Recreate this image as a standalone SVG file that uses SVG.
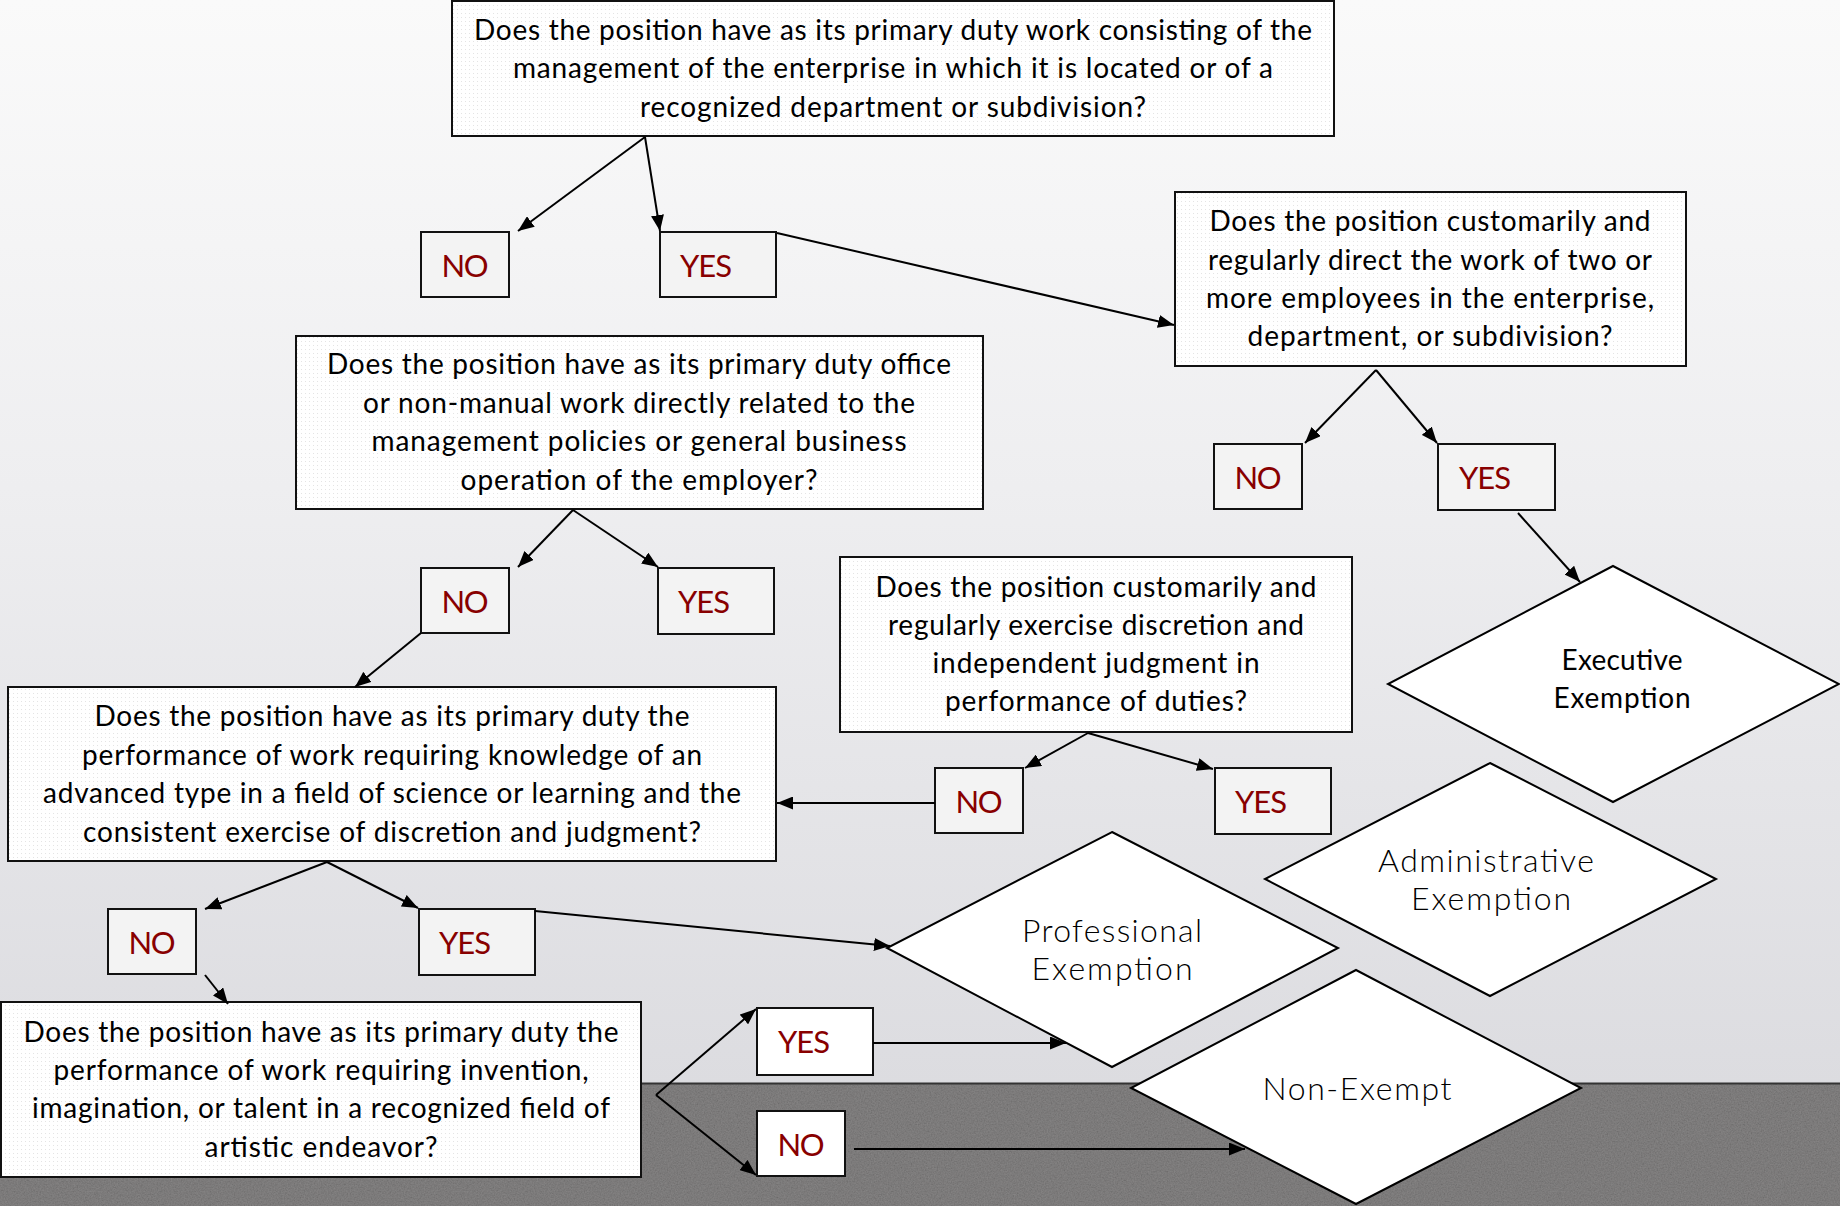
<svg xmlns="http://www.w3.org/2000/svg" width="1840" height="1206" viewBox="0 0 1840 1206">
<defs>
<linearGradient id="bg" x1="0" y1="0" x2="0" y2="1">
<stop offset="0" stop-color="#fafafa"/>
<stop offset="0.45" stop-color="#eeeef0"/>
<stop offset="1" stop-color="#dcdce0"/>
</linearGradient>
<pattern id="dots" width="4" height="4" patternUnits="userSpaceOnUse">
<rect width="4" height="4" fill="#ffffff"/>
<rect x="1" y="1" width="1" height="1" fill="#e4e4e4"/>
</pattern>
<filter id="noise" x="0" y="0" width="100%" height="100%">
<feTurbulence type="fractalNoise" baseFrequency="0.7" numOctaves="3" seed="4"/>
<feColorMatrix type="saturate" values="0"/>
<feComponentTransfer><feFuncA type="linear" slope="0" intercept="0.22"/></feComponentTransfer>
</filter>
<marker id="ah" markerUnits="userSpaceOnUse" markerWidth="17" markerHeight="13" refX="16" refY="6.5" orient="auto">
<path d="M0,0 L16,6.5 L0,13 z" fill="#000"/>
</marker>
</defs>
<style>
.q{fill:url(#dots);stroke:#111;stroke-width:2}
.yn{fill:#f3f3f3;stroke:#111;stroke-width:2}
.ynw{fill:#ffffff;stroke:#111;stroke-width:2}
.dm{fill:#ffffff;stroke:#000;stroke-width:2}
.qt{font-family:Lato,"Open Sans","Liberation Sans",sans-serif;font-size:28px;fill:#000;text-anchor:middle}
.a{font-family:Lato,"Open Sans","Liberation Sans",sans-serif;font-size:31px;fill:#880000}
.dt{font-family:Lato,"Open Sans","Liberation Sans",sans-serif;font-size:32px;font-weight:300;fill:#000;text-anchor:middle}
.ex{font-family:Lato,"Open Sans","Liberation Sans",sans-serif;font-size:28px;fill:#000;text-anchor:middle}
.c{fill:none;stroke:#000;stroke-width:2;marker-end:url(#ah)}
</style>
<rect x="0" y="0" width="1840" height="1084" fill="url(#bg)"/>
<rect x="0" y="1083" width="1840" height="123" fill="#6a6868"/>
<rect x="0" y="1083" width="1840" height="123" filter="url(#noise)"/>
<line x1="0" y1="1083.5" x2="1840" y2="1083.5" stroke="#333" stroke-width="2"/>

<g id="q1">
<rect class="q" x="452" y="1" width="882" height="135"/>
<text class="qt" x="893" y="40" textLength="838">Does the position have as its primary duty work consisting of the</text>
<text class="qt" x="893" y="78" textLength="760">management of the enterprise in which it is located or of a</text>
<text class="qt" x="893" y="117" textLength="506">recognized department or subdivision?</text>
</g>
<g id="no1"><rect class="yn" x="421" y="232" width="88" height="65"/><text class="a" x="465" y="277" text-anchor="middle" textLength="47">NO</text></g>
<g id="yes1"><rect class="yn" x="660" y="232" width="116" height="65"/><text class="a" x="680" y="277" textLength="52">YES</text></g>

<g id="q2">
<rect class="q" x="1175" y="192" width="511" height="174"/>
<text class="qt" x="1430" y="231" textLength="441">Does the position customarily and</text>
<text class="qt" x="1430" y="270" textLength="444">regularly direct the work of two or</text>
<text class="qt" x="1430" y="308" textLength="448">more employees in the enterprise,</text>
<text class="qt" x="1430" y="346" textLength="365">department, or subdivision?</text>
</g>
<g id="no2"><rect class="yn" x="1214" y="444" width="88" height="65"/><text class="a" x="1258" y="489" text-anchor="middle" textLength="47">NO</text></g>
<g id="yes2"><rect class="yn" x="1438" y="444" width="117" height="66"/><text class="a" x="1459" y="489" textLength="52">YES</text></g>

<g id="executive">
<polygon class="dm" points="1613,566 1839,684 1613,802 1388,684"/>
<text class="ex" x="1622" y="670" textLength="121">Executive</text>
<text class="ex" x="1622" y="708" textLength="137">Exemption</text>
</g>

<g id="q3">
<rect class="q" x="296" y="336" width="687" height="173"/>
<text class="qt" x="639" y="374" textLength="624">Does the position have as its primary duty office</text>
<text class="qt" x="639" y="413" textLength="552">or non-manual work directly related to the</text>
<text class="qt" x="639" y="451" textLength="535">management policies or general business</text>
<text class="qt" x="639" y="490" textLength="357">operation of the employer?</text>
</g>
<g id="no3"><rect class="yn" x="421" y="568" width="88" height="65"/><text class="a" x="465" y="613" text-anchor="middle" textLength="47">NO</text></g>
<g id="yes3"><rect class="yn" x="658" y="568" width="116" height="66"/><text class="a" x="678" y="613" textLength="52">YES</text></g>

<g id="q4">
<rect class="q" x="840" y="557" width="512" height="175"/>
<text class="qt" x="1096" y="597" textLength="441">Does the position customarily and</text>
<text class="qt" x="1096" y="635" textLength="416">regularly exercise discretion and</text>
<text class="qt" x="1096" y="673" textLength="327">independent judgment in</text>
<text class="qt" x="1096" y="711" textLength="302">performance of duties?</text>
</g>
<g id="no4"><rect class="yn" x="935" y="768" width="88" height="65"/><text class="a" x="979" y="813" text-anchor="middle" textLength="47">NO</text></g>
<g id="yes4"><rect class="yn" x="1215" y="768" width="116" height="66"/><text class="a" x="1235" y="813" textLength="52">YES</text></g>

<g id="administrative">
<polygon class="dm" points="1490,763 1716,879 1490,996 1265,879"/>
<text class="dt" x="1486" y="872" textLength="216">Administrative</text>
<text class="dt" x="1491" y="910" textLength="160">Exemption</text>
</g>

<g id="q5">
<rect class="q" x="8" y="687" width="768" height="174"/>
<text class="qt" x="392" y="726" textLength="595">Does the position have as its primary duty the</text>
<text class="qt" x="392" y="765" textLength="620">performance of work requiring knowledge of an</text>
<text class="qt" x="392" y="803" textLength="698">advanced type in a field of science or learning and the</text>
<text class="qt" x="392" y="842" textLength="618">consistent exercise of discretion and judgment?</text>
</g>
<g id="no5"><rect class="yn" x="108" y="909" width="88" height="65"/><text class="a" x="152" y="954" text-anchor="middle" textLength="47">NO</text></g>
<g id="yes5"><rect class="yn" x="419" y="909" width="116" height="66"/><text class="a" x="439" y="954" textLength="52">YES</text></g>

<g id="professional">
<polygon class="dm" points="1112,832 1338,948 1112,1067 887,948"/>
<text class="dt" x="1112" y="942" textLength="180">Professional</text>
<text class="dt" x="1112" y="980" textLength="161">Exemption</text>
</g>

<g id="q6">
<rect class="q" x="1" y="1002" width="640" height="175"/>
<text class="qt" x="321" y="1042" textLength="595">Does the position have as its primary duty the</text>
<text class="qt" x="321" y="1080" textLength="535">performance of work requiring invention,</text>
<text class="qt" x="321" y="1118" textLength="578">imagination, or talent in a recognized field of</text>
<text class="qt" x="321" y="1157" textLength="233">artistic endeavor?</text>
</g>
<g id="yes6"><rect class="ynw" x="757" y="1008" width="116" height="67"/><text class="a" x="778" y="1053" textLength="52">YES</text></g>
<g id="no6"><rect class="ynw" x="757" y="1111" width="88" height="65"/><text class="a" x="801" y="1156" text-anchor="middle" textLength="47">NO</text></g>

<g id="nonexempt">
<polygon class="dm" points="1356,970 1581,1088 1356,1204 1131,1088"/>
<text class="dt" x="1357" y="1100" textLength="189">Non-Exempt</text>
</g>

<g id="connectors">
<path class="c" d="M645,137 L518,231"/>
<path class="c" d="M645,137 L660,231"/>
<path class="c" d="M777,233 L1174,325"/>
<path class="c" d="M1376,370 L1305,443"/>
<path class="c" d="M1376,370 L1437,443"/>
<path class="c" d="M1518,513 L1580,582"/>
<path class="c" d="M573,510 L518,567"/>
<path class="c" d="M573,510 L658,567"/>
<path class="c" d="M421,633 L355,687"/>
<path class="c" d="M1088,733 L1025,768"/>
<path class="c" d="M1088,733 L1213,769"/>
<path class="c" d="M935,803 L777,803"/>
<path class="c" d="M327,862 L205,909"/>
<path class="c" d="M327,862 L418,908"/>
<path class="c" d="M535,911 L890,946"/>
<path class="c" d="M205,975 L228,1004"/>
<path class="c" d="M656,1095 L756,1009"/>
<path class="c" d="M656,1095 L756,1175"/>
<path class="c" d="M873,1043 L1066,1043"/>
<path class="c" d="M854,1149 L1245,1149"/>
</g>
</svg>
